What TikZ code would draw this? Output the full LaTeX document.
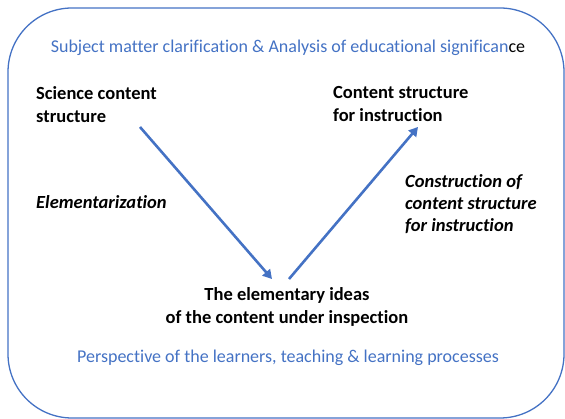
\documentclass[tikz,border=0pt]{standalone}
\usepackage{fontspec}
\setmainfont{Carlito}[Ligatures=NoCommon]
\usepackage[dvipsnames,svgnames]{xcolor}
\usepackage{tkz-euclide}
\definecolor{ppblue}{HTML}{4472C4}

\tikzset{
  frame/.style={draw=ppblue,line width=1.3pt,rounded corners=64pt},
  head/.style={font=\fontsize{18}{22}\selectfont,text=ppblue,inner sep=0pt},
  term/.style={font=\fontsize{18.5}{23}\selectfont\bfseries,align=left,inner sep=0pt},
  step label/.style={font=\fontsize{18.5}{22}\selectfont\bfseries\itshape,align=left,inner sep=0pt},
  flow/.style={draw=ppblue,line width=2.6pt,-{Triangle[length=9pt,width=10pt]}}
}

\begin{document}
\begin{tikzpicture}[x=1pt,y=-1pt]
  \useasboundingbox (0,0) rectangle (565,419);
  \draw[frame] (8,8) rectangle (564,418);
  \node[head] (top) at (288,48) {Subject matter clarification \& Analysis of educational significan\textcolor{black}{ce}};
  \node[head] (bottom) at (288,358) {Perspective of the learners, teaching \& learning processes};
  \node[term,anchor=north west] (science) at (36,86) {Science content\\structure};
  \node[term,anchor=north west] (instr) at (333,86) {Content structure\\for instruction};
  \node[term,align=center,anchor=north] (ideas) at (287,287) {The elementary ideas\\of the content under inspection};
  \node[step label,anchor=west] (elem) at (36,202) {Elementarization};
  \node[step label,anchor=north west] (constr) at (405,174) {Construction of\\content structure\\for instruction};
  \tkzDefPoint(140,127){A}
  \tkzDefPoint(272,279){B}
  \tkzDefPoint(289,279){C}
  \tkzDefPoint(418,127){D}
  \draw[flow] (A) -- (B);
  \draw[flow] (C) -- (D);
\end{tikzpicture}
\end{document}
